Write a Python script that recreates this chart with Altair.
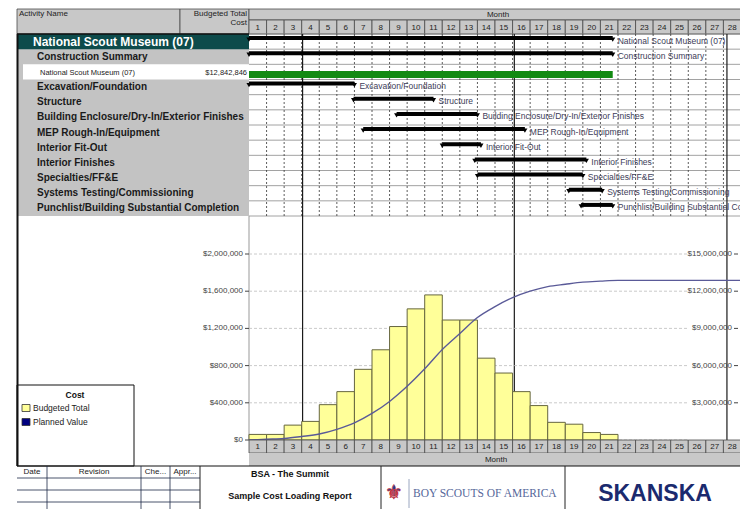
import altair as alt
import pandas as pd

# ---------------- data ----------------
activity_names = [
    "National Scout Museum (07)",
    "Construction Summary",
    "National Scout Museum (07)",
    "Excavation/Foundation",
    "Structure",
    "Building Enclosure/Dry-In/Exterior Finishes",
    "MEP Rough-In/Equipment",
    "Interior Fit-Out",
    "Interior Finishes",
    "Specialties/FF&E",
    "Systems Testing/Commissioning",
    "Punchlist/Building Substantial Completion",
]
activity_levels = ["project", "summary", "cost", "task", "task", "task",
                   "task", "task", "task", "task", "task", "task"]
activity_costs = ["", "", "$12,842,846", "", "", "", "", "", "", "", "", ""]
activity_start = [0.0, 0.0, 0.0, 0.0, 5.95, 8.4, 6.5, 11.0, 12.85, 13.0, 18.2, 18.9]
activity_finish = [20.7, 20.7, 20.7, 6.0, 10.5, 13.0, 15.7, 13.2, 19.2, 19.0, 20.1, 20.7]

months = list(range(1, 29))
cost_months = list(range(1, 22))
budgeted_total = [60000, 60000, 160000, 200000, 380000, 520000, 760000, 970000,
                  1220000, 1410000, 1560000, 1290000, 1290000, 880000, 720000,
                  520000, 370000, 190000, 170000, 80000, 60000]

left_ticks = [0, 400000, 800000, 1200000, 1600000, 2000000]
left_tick_labels = ["$0", "$400,000", "$800,000", "$1,200,000", "$1,600,000", "$2,000,000"]
right_ticks = [3000000, 6000000, 9000000, 12000000, 15000000]
right_tick_labels = ["$3,000,000", "$6,000,000", "$9,000,000", "$12,000,000", "$15,000,000"]
marker_months = [3.05, 15.1, 27.2]
legend_labels = ["Budgeted Total", "Planned Value"]
revision_headers = ["Date", "Revision", "Che...", "Appr..."]
footer_titles = ["BSA - The Summit", "Sample Cost Loading Report"]

# ---------------- layout / style ----------------
FONT = "Liberation Sans"
X0, Y0 = 249, 8          # page position of month 0 / chart top
PW = 492                 # full width of the 28 month columns
W, H = 491, 501          # drawn view (keeps the page inside the window)
HDR = "#c8c8c8"
GRAY = "#c3c3c3"
TEAL = "#0d4b4b"
LINE = "#4a4a4a"
YELLOW = "#ffff99"
NAVY = "#000080"
PV = "#5a5a98"
ONE = alt.Data(values=[{"k": 1}])


def px(x):
    return x - X0


def py(y):
    return y - Y0


X = alt.Scale(domain=[0, 28], range=[0, PW], nice=False, zero=False)
ROW = alt.Scale(domain=[0, len(activity_names)], range=[py(34), py(216)], nice=False, zero=False)
COST = alt.Scale(domain=[0, 2000000], range=[py(440), py(254)], nice=False, zero=False)
CUM = alt.Scale(domain=[0, 15000000], range=[py(440), py(254)], nice=False, zero=False)


def box(x1, x2, y1, y2, **kw):
    return alt.Chart(ONE).mark_rect(**kw).encode(
        x=alt.value(px(x1)), x2=alt.value(px(x2)), y=alt.value(py(y1)), y2=alt.value(py(y2)))


def hline(x1, x2, y, **kw):
    return alt.Chart(ONE).mark_rule(**kw).encode(
        x=alt.value(px(x1)), x2=alt.value(px(x2)), y=alt.value(py(y)))


def vline(x, y1, y2, **kw):
    return alt.Chart(ONE).mark_rule(**kw).encode(
        x=alt.value(px(x)), y=alt.value(py(y1)), y2=alt.value(py(y2)))


def label(text, x, y, **kw):
    kw.setdefault("font", FONT)
    kw.setdefault("baseline", "middle")
    return alt.Chart(ONE).mark_text(text=text, **kw).encode(
        x=alt.value(px(x)), y=alt.value(py(y)))


# ---------------- tables ----------------
rows = pd.DataFrame({
    "name": activity_names, "level": activity_levels, "cost": activity_costs,
    "start": activity_start, "finish": activity_finish,
})
rows["top"] = range(len(rows))
rows["bottom"] = rows["top"] + 1
rows["mid"] = rows["top"] + 0.5
bars_rows = rows[rows["level"] != "cost"]
ends = pd.concat([
    bars_rows[["mid"]].assign(t=bars_rows["start"]),
    bars_rows[["mid"]].assign(t=bars_rows["finish"]),
])

mdf = pd.DataFrame({"m": months})
mdf["m0"] = mdf["m"] - 1
mdf["mc"] = mdf["m"] - 0.5

cdf = pd.DataFrame({"m": cost_months, "value": budgeted_total})
cdf["m0"] = cdf["m"] - 1
cdf["base"] = 0
cum = cdf["value"].cumsum().tolist()
line_df = pd.DataFrame({"t": [0] + cost_months + [months[-1]], "cum": [0] + cum + [cum[-1]]})

lt = pd.DataFrame({"v": left_ticks, "lab": left_tick_labels})
rt = pd.DataFrame({"v": right_ticks, "lab": right_tick_labels})
bounds = pd.DataFrame({"b": list(range(len(rows) + 1))})
grid_m = pd.DataFrame({"m": months[:-1]})
marks_df = pd.DataFrame({"m": marker_months})

layers = []

# ----- header -----
layers += [
    box(17, 180, 9, 34, fill=HDR, stroke=LINE, strokeWidth=0.8),
    box(180, 249, 9, 34, fill=HDR, stroke=LINE, strokeWidth=0.8),
    box(249, 760, 9, 20, fill=HDR, stroke=LINE, strokeWidth=0.8),
    label("Activity Name", 19, 14, fontSize=8, color="#222", align="left"),
    label("Budgeted Total", 247, 13.5, fontSize=8, color="#222", align="right"),
    label("Cost", 247, 22.5, fontSize=8, color="#222", align="right"),
    label("Month", 498, 14.5, fontSize=8, color="#222", align="center"),
    alt.Chart(mdf).mark_rect(fill=HDR, stroke=LINE, strokeWidth=0.8).encode(
        x=alt.X("m0:Q", scale=X, axis=None), x2="m:Q",
        y=alt.value(py(20)), y2=alt.value(py(34))),
    alt.Chart(mdf).mark_text(font=FONT, fontSize=8, color="#222", baseline="middle").encode(
        x=alt.X("mc:Q", scale=X, axis=None), y=alt.value(py(27.5)), text="m:Q"),
]

# ----- left activity panel -----
layers += [
    box(17, 249, 34, 216, fill=GRAY),
    alt.Chart(rows[rows["level"] == "project"]).mark_rect(fill=TEAL).encode(
        x=alt.value(px(17)), x2=alt.value(0),
        y=alt.Y("top:Q", scale=ROW, axis=None), y2="bottom:Q"),
    alt.Chart(rows[rows["level"] == "cost"]).mark_rect(fill="white").encode(
        x=alt.value(px(23)), x2=alt.value(0),
        y=alt.Y("top:Q", scale=ROW, axis=None), y2="bottom:Q"),
    alt.Chart(rows[rows["level"] == "project"]).mark_text(
        font=FONT, fontSize=12, fontWeight="bold", color="white", align="left", baseline="middle").encode(
        x=alt.value(px(33)), y=alt.Y("mid:Q", scale=ROW, axis=None), text="name:N"),
    alt.Chart(rows[rows["level"].isin(["summary", "task"])]).mark_text(
        font=FONT, fontSize=10, fontWeight="bold", color="#1a1a1a", align="left", baseline="middle").encode(
        x=alt.value(px(37)), y=alt.Y("mid:Q", scale=ROW, axis=None), text="name:N"),
    alt.Chart(rows[rows["level"] == "cost"]).mark_text(
        font=FONT, fontSize=7.5, color="#222", align="left", baseline="middle", yOffset=1).encode(
        x=alt.value(px(40)), y=alt.Y("mid:Q", scale=ROW, axis=None), text="name:N"),
    alt.Chart(rows[rows["level"] == "cost"]).mark_text(
        font=FONT, fontSize=7.5, color="#222", align="right", baseline="middle", yOffset=1).encode(
        x=alt.value(px(247)), y=alt.Y("mid:Q", scale=ROW, axis=None), text="cost:N"),
    hline(17, 249, 34, color="#111", strokeWidth=1.5),
]

# ----- gantt grid -----
layers += [
    alt.Chart(bounds).mark_rule(color="#8a8a8a", strokeWidth=0.8).encode(
        x=alt.value(0), x2=alt.value(PW + 20), y=alt.Y("b:Q", scale=ROW, axis=None)),
    alt.Chart(grid_m).mark_rule(color="#333", strokeWidth=0.8, strokeDash=[2, 2]).encode(
        x=alt.X("m:Q", scale=X, axis=None), y=alt.value(py(34)), y2=alt.value(py(216))),
    alt.Chart(marks_df).mark_rule(color="#1a1a1a", strokeWidth=1.2).encode(
        x=alt.X("m:Q", scale=X, axis=None), y=alt.value(py(34)), y2=alt.value(py(440))),
]

# ----- gantt bars -----
layers += [
    alt.Chart(rows[rows["level"] == "cost"]).mark_rule(color="#138a13", strokeWidth=7, yOffset=2.5).encode(
        x=alt.X("start:Q", scale=X, axis=None), x2="finish:Q",
        y=alt.Y("mid:Q", scale=ROW, axis=None)),
    alt.Chart(bars_rows).mark_rule(color="black", strokeWidth=4, yOffset=-3.5).encode(
        x=alt.X("start:Q", scale=X, axis=None), x2="finish:Q",
        y=alt.Y("mid:Q", scale=ROW, axis=None)),
    alt.Chart(ends).mark_point(shape="triangle-down", filled=True, size=26, color="black",
                               opacity=1, yOffset=-2).encode(
        x=alt.X("t:Q", scale=X, axis=None), y=alt.Y("mid:Q", scale=ROW, axis=None)),
    alt.Chart(bars_rows).mark_text(font=FONT, fontSize=8.5, color="#3d3d58", align="left",
                                   baseline="middle", dx=5, yOffset=-1).encode(
        x=alt.X("finish:Q", scale=X, axis=None), y=alt.Y("mid:Q", scale=ROW, axis=None),
        text="name:N"),
]

# ----- cost chart -----
layers += [
    vline(249, 216, 440, color="#999", strokeWidth=1),
    alt.Chart(lt).mark_rule(color="#bdbdbd", strokeWidth=0.8, strokeDash=[3, 2]).encode(
        x=alt.value(0), x2=alt.value(PW - 54), y=alt.Y("v:Q", scale=COST, axis=None)),
    alt.Chart(cdf).mark_rect(fill=YELLOW, stroke="#66663f", strokeWidth=1).encode(
        x=alt.X("m0:Q", scale=X, axis=None), x2="m:Q",
        y=alt.Y("value:Q", scale=COST, axis=None), y2="base:Q"),
    alt.Chart(line_df).mark_line(color=PV, strokeWidth=1.4, interpolate="monotone").encode(
        x=alt.X("t:Q", scale=X, axis=None), y=alt.Y("cum:Q", scale=CUM, axis=None)),
    alt.Chart(lt).mark_text(font=FONT, fontSize=8, color="#444", align="right", baseline="middle").encode(
        x=alt.value(-6), y=alt.Y("v:Q", scale=COST, axis=None), text="lab:N"),
    alt.Chart(lt).mark_rule(color="#444", strokeWidth=1).encode(
        x=alt.value(-4), x2=alt.value(0), y=alt.Y("v:Q", scale=COST, axis=None)),
    alt.Chart(rt).mark_text(font=FONT, fontSize=8, color="#444", align="right", baseline="middle").encode(
        x=alt.value(PW - 9), y=alt.Y("v:Q", scale=CUM, axis=None), text="lab:N"),
    alt.Chart(rt).mark_rule(color="#444", strokeWidth=1).encode(
        x=alt.value(PW - 7), x2=alt.value(PW - 3), y=alt.Y("v:Q", scale=CUM, axis=None)),
    alt.Chart(mdf).mark_rect(fill=HDR, stroke=LINE, strokeWidth=0.8).encode(
        x=alt.X("m0:Q", scale=X, axis=None), x2="m:Q",
        y=alt.value(py(440)), y2=alt.value(py(453))),
    alt.Chart(mdf).mark_text(font=FONT, fontSize=8, color="#222", baseline="middle").encode(
        x=alt.X("mc:Q", scale=X, axis=None), y=alt.value(py(447)), text="m:Q"),
    box(249, 760, 453, 466, fill=HDR),
    label("Month", 496, 460, fontSize=8, color="#222", align="center"),
]

# ----- legend -----
layers += [
    box(17, 134, 385, 466, fill="white", stroke="#111", strokeWidth=1),
    label("Cost", 75, 394.5, fontSize=8.5, fontWeight="bold", color="#111", align="center"),
    box(22, 30, 404.5, 411.5, fill=YELLOW, stroke="#333", strokeWidth=0.8),
    box(22, 30, 418.5, 425.5, fill=NAVY, stroke="#333", strokeWidth=0.8),
    label(legend_labels[0], 33, 408, fontSize=8.5, color="#222", align="left"),
    label(legend_labels[1], 33, 422, fontSize=8.5, color="#222", align="left"),
    vline(17.5, 34, 466, color="#111", strokeWidth=2),
]

# ----- footer -----
FL = "#1c2848"
layers += [
    hline(17, 760, 466, color="#111", strokeWidth=1),
]
for yy in [478, 490, 502, 514]:
    layers.append(hline(17, 200, yy, color=FL, strokeWidth=0.8))
for xx in [47, 141, 170]:
    layers.append(vline(xx, 466, 520, color=FL, strokeWidth=0.8))
for xx in [200, 381, 565]:
    layers.append(vline(xx, 466, 520, color="#222", strokeWidth=1))
for txt, xc in zip(revision_headers, [32, 94, 155.5, 185]):
    layers.append(label(txt, xc, 472, fontSize=8, color="#222", align="center"))
layers += [
    label(footer_titles[0], 290, 473.5, fontSize=9, fontWeight="bold", color="#111", align="center"),
    label(footer_titles[1], 290, 496, fontSize=9, fontWeight="bold", color="#111", align="center"),
    label("\u269c", 394, 493, fontSize=20, color="#24418f", stroke="#c8323c", strokeWidth=0.6,
          align="center", font="DejaVu Sans"),
    vline(409, 479, 508, color="#9aa6c0", strokeWidth=1),
    label("BOY SCOUTS OF AMERICA", 413, 494, fontSize=11.5, color="#56679a", align="left",
          font="Liberation Serif"),
    label("SKANSKA", 655, 494, fontSize=23, fontWeight="bold", color="#1b2a6e", align="center"),
]

chart = alt.layer(*layers).resolve_scale(y="independent").properties(
    width=W, height=H,
    autosize=alt.AutoSizeParams(type="none"),
    padding={"left": X0 - 8, "top": 0, "right": 0, "bottom": 0},
    background="white",
).configure_view(stroke=None)

chart.save("out.html", embed_options={"renderer": "svg", "actions": False})
